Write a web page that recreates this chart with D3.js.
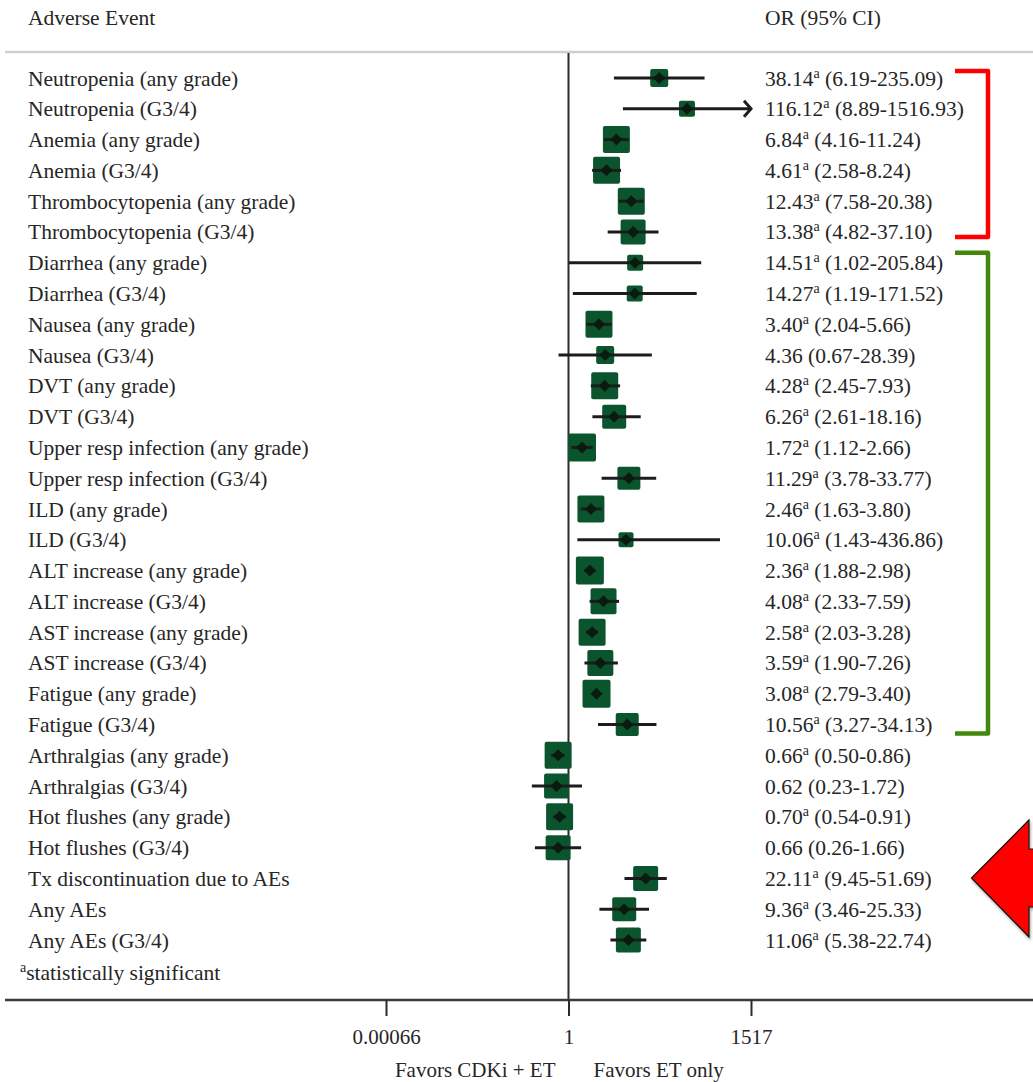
<!DOCTYPE html>
<html>
<head>
<meta charset="utf-8">
<script src="https://cdn.jsdelivr.net/npm/d3@7"></script>
<style>
  body { margin: 0; background: #fff; }
  svg { display: block; font-family: "Liberation Serif", "Times New Roman", serif; }
</style>
</head>
<body>
<div id="chart"></div>
<script>
// Adverse events, odds ratios and 95% CI
const events = [
  "Neutropenia (any grade)", "Neutropenia (G3/4)",
  "Anemia (any grade)", "Anemia (G3/4)",
  "Thrombocytopenia (any grade)", "Thrombocytopenia (G3/4)",
  "Diarrhea (any grade)", "Diarrhea (G3/4)",
  "Nausea (any grade)", "Nausea (G3/4)",
  "DVT (any grade)", "DVT (G3/4)",
  "Upper resp infection (any grade)", "Upper resp infection (G3/4)",
  "ILD (any grade)", "ILD (G3/4)",
  "ALT increase (any grade)", "ALT increase (G3/4)",
  "AST increase (any grade)", "AST increase (G3/4)",
  "Fatigue (any grade)", "Fatigue (G3/4)",
  "Arthralgias (any grade)", "Arthralgias (G3/4)",
  "Hot flushes (any grade)", "Hot flushes (G3/4)",
  "Tx discontinuation due to AEs", "Any AEs", "Any AEs (G3/4)"
];
const oddsRatio = [38.14, 116.12, 6.84, 4.61, 12.43, 13.38, 14.51, 14.27, 3.40, 4.36,
  4.28, 6.26, 1.72, 11.29, 2.46, 10.06, 2.36, 4.08, 2.58, 3.59, 3.08, 10.56,
  0.66, 0.62, 0.70, 0.66, 22.11, 9.36, 11.06];
const ciLow = [6.19, 8.89, 4.16, 2.58, 7.58, 4.82, 1.02, 1.19, 2.04, 0.67,
  2.45, 2.61, 1.12, 3.78, 1.63, 1.43, 1.88, 2.33, 2.03, 1.90, 2.79, 3.27,
  0.50, 0.23, 0.54, 0.26, 9.45, 3.46, 5.38];
const ciHigh = [235.09, 1516.93, 11.24, 8.24, 20.38, 37.10, 205.84, 171.52, 5.66, 28.39,
  7.93, 18.16, 2.66, 33.77, 3.80, 436.86, 2.98, 7.59, 3.28, 7.26, 3.40, 34.13,
  0.86, 1.72, 0.91, 1.66, 51.69, 25.33, 22.74];
const significant = [1, 1, 1, 1, 1, 1, 1, 1, 1, 0, 1, 1, 1, 1, 1, 1, 1, 1, 1, 1, 1, 1,
  1, 0, 1, 0, 1, 1, 1];
// relative study weight (drives box size)
const weights = [18, 16, 27, 27, 27, 25, 16, 16, 27, 18, 27, 24, 28, 23, 27, 15, 28, 26,
  27, 26, 28, 23, 27, 25, 27, 25, 25, 24, 25];
const tickValues = [0.00066, 1, 1517];
const tickLabels = ["0.00066", "1", "1517"];

const width = 1033, height = 1082;
const fmt = d3.format(".2f");

const svg = d3.select("#chart").append("svg")
  .attr("width", width)
  .attr("height", height);

const x = d3.scaleLog().domain([0.00066, 1517]).range([386, 751]);
const y = d3.scalePoint().domain(d3.range(events.length)).range([78, 940]);
const boxSize = d3.scaleLinear().domain([0, 28]).range([0, 28]);

const textColor = "#262626";
const ciX = 765;

// header
svg.append("text").attr("x", 28).attr("y", 17).attr("dy", "0.35em")
  .attr("font-size", 21.5).attr("fill", textColor).text("Adverse Event");
svg.append("text").attr("x", ciX).attr("y", 17).attr("dy", "0.35em")
  .attr("font-size", 21.5).attr("fill", textColor).text("OR (95% CI)");

svg.append("line").attr("x1", 5).attr("x2", width).attr("y1", 52).attr("y2", 52)
  .attr("stroke", "#cfcfcf").attr("stroke-width", 2.5);

// reference line at OR = 1
svg.append("line").attr("x1", x(1)).attr("x2", x(1)).attr("y1", 53).attr("y2", 1000)
  .attr("stroke", "#2b2b2b").attr("stroke-width", 2);

const rows = svg.selectAll("g.row")
  .data(events.map((e, i) => i))
  .enter().append("g").attr("class", "row");

// boxes
rows.append("rect")
  .attr("x", i => x(oddsRatio[i]) - boxSize(weights[i]) / 2)
  .attr("y", i => y(i) - boxSize(weights[i]) / 2)
  .attr("width", i => boxSize(weights[i]))
  .attr("height", i => boxSize(weights[i]))
  .attr("rx", 2)
  .attr("fill", "#0b552e");

// confidence intervals
rows.append("line")
  .attr("x1", i => x(ciLow[i]))
  .attr("x2", i => x(Math.min(ciHigh[i], 1517)))
  .attr("y1", i => y(i)).attr("y2", i => y(i))
  .attr("stroke", "#1c1c1c").attr("stroke-width", 3);

// arrowhead where CI is truncated at the axis limit
rows.filter(i => ciHigh[i] >= 1516)
  .append("path")
  .attr("d", i => {
    const xe = x(1517), yc = y(i);
    return `M${xe - 7},${yc - 8} L${xe},${yc} L${xe - 7},${yc + 8}`;
  })
  .attr("fill", "none").attr("stroke", "#1c1c1c").attr("stroke-width", 3);

// point estimate diamonds
rows.append("path")
  .attr("d", i => {
    const cx = x(oddsRatio[i]), cy = y(i), h = 6;
    return `M${cx},${cy - h} L${cx + h},${cy} L${cx},${cy + h} L${cx - h},${cy} Z`;
  })
  .attr("fill", "#0a1a0e");

// row labels
rows.append("text")
  .attr("x", 28).attr("y", i => y(i)).attr("dy", "0.35em")
  .attr("font-size", 21.5).attr("fill", textColor)
  .text(i => events[i]);

// OR (95% CI) text
const ciText = rows.append("text")
  .attr("x", ciX).attr("y", i => y(i)).attr("dy", "0.35em")
  .attr("font-size", 21.5).attr("fill", textColor);
ciText.append("tspan").text(i => fmt(oddsRatio[i]));
ciText.filter(i => significant[i]).append("tspan")
  .attr("font-size", 14).attr("dy", -8).text("a");
ciText.append("tspan")
  .attr("dy", i => significant[i] ? 8 : 0)
  .text(i => ` (${fmt(ciLow[i])}-${fmt(ciHigh[i])})`);

// footnote
const foot = svg.append("text").attr("x", 20).attr("y", 980)
  .attr("font-size", 21.5).attr("fill", textColor);
foot.append("tspan").attr("font-size", 14).attr("dy", -8).text("a");
foot.append("tspan").attr("dy", 8).text("statistically significant");

// bottom axis
svg.append("line").attr("x1", 5).attr("x2", width).attr("y1", 1000).attr("y2", 1000)
  .attr("stroke", "#3a3a3a").attr("stroke-width", 2.5);

const axis = svg.append("g").attr("transform", "translate(0,1000)")
  .call(d3.axisBottom(x).tickValues(tickValues)
    .tickFormat((d, i) => tickLabels[i]).tickSize(16));
axis.select(".domain").remove();
axis.selectAll(".tick line").attr("stroke", "#2b2b2b").attr("stroke-width", 2);
axis.selectAll(".tick text")
  .attr("y", 37).attr("dy", "0.35em")
  .attr("font-family", "Liberation Serif, serif")
  .attr("font-size", 21).attr("fill", textColor);

svg.append("text").attr("x", x(1) - 13).attr("y", 1070).attr("dy", "0.35em")
  .attr("text-anchor", "end").attr("font-size", 21).attr("fill", textColor)
  .text("Favors CDKi + ET");
svg.append("text").attr("x", x(1) + 25).attr("y", 1070).attr("dy", "0.35em")
  .attr("font-size", 21).attr("fill", textColor)
  .text("Favors ET only");

// brackets grouping events
function bracket(top, bottom, color) {
  svg.append("path")
    .attr("d", `M955,${top} L988,${top} L988,${bottom} L955,${bottom}`)
    .attr("fill", "none").attr("stroke", color)
    .attr("stroke-width", 4.5).attr("stroke-linejoin", "round");
}
bracket(y(0) - 7, y(5) + 5, "#ff0000");
bracket(y(6) - 10, y(21) + 9, "#43870b");

// big red arrow
const defs = svg.append("defs");
const filt = defs.append("filter").attr("id", "shadow")
  .attr("x", "-20%").attr("y", "-20%").attr("width", "140%").attr("height", "140%");
filt.append("feDropShadow").attr("dx", 1).attr("dy", 2).attr("stdDeviation", 1.5)
  .attr("flood-color", "#000").attr("flood-opacity", 0.35);

svg.append("path")
  .attr("d", "M1040,849 L1029,849 L1029,820 L971.5,878 L1029,937 L1029,907 L1040,907 Z")
  .attr("fill", "#ff0000").attr("stroke", "#111").attr("stroke-width", 1.2)
  .attr("filter", "url(#shadow)");
</script>
</body>
</html>
